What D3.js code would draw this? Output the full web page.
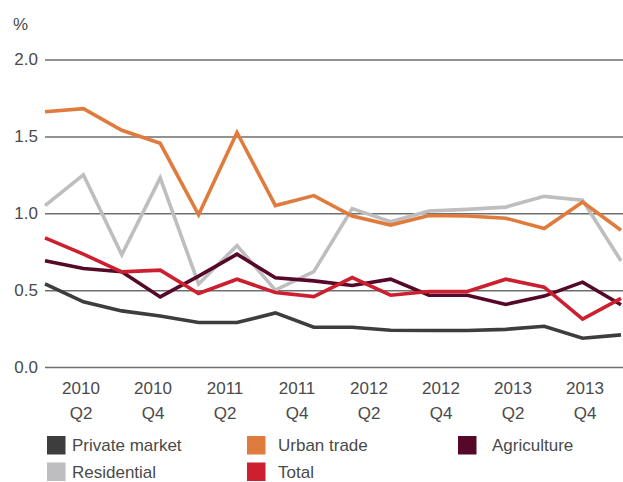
<!DOCTYPE html>
<html>
<head>
<meta charset="utf-8">
<script src="https://cdn.jsdelivr.net/npm/d3@7/dist/d3.min.js"></script>
<style>
  html, body { margin: 0; padding: 0; background: #fff; }
  svg { display: block; }
  text { font-family: "Liberation Sans", Arial, sans-serif; fill: #4a4a4a; }
</style>
</head>
<body>
<svg id="chart" width="623" height="482"></svg>
<script>
// Quarterly share (%), 2010 Q1 – 2013 Q4
const quarters = [
  "2010 Q1","2010 Q2","2010 Q3","2010 Q4",
  "2011 Q1","2011 Q2","2011 Q3","2011 Q4",
  "2012 Q1","2012 Q2","2012 Q3","2012 Q4",
  "2013 Q1","2013 Q2","2013 Q3","2013 Q4"
];
const tickQuarters = ["2010 Q2","2010 Q4","2011 Q2","2011 Q4","2012 Q2","2012 Q4","2013 Q2","2013 Q4"];
const yTicks = [0, 0.5, 1.0, 1.5, 2.0];

const residential   = [1.05, 1.25, 0.73, 1.23, 0.54, 0.79, 0.50, 0.62, 1.03, 0.945, 1.015, 1.025, 1.04, 1.11, 1.085, 0.69];
const urbanTrade    = [1.66, 1.68, 1.54, 1.455, 0.99, 1.525, 1.05, 1.115, 0.982, 0.923, 0.985, 0.982, 0.968, 0.901, 1.073, 0.889];
const privateMarket = [0.54, 0.424, 0.365, 0.332, 0.289, 0.289, 0.352, 0.259, 0.259, 0.239, 0.237, 0.237, 0.245, 0.265, 0.187, 0.209];
const agriculture   = [0.691, 0.641, 0.619, 0.456, 0.591, 0.734, 0.581, 0.560, 0.530, 0.571, 0.467, 0.467, 0.407, 0.461, 0.552, 0.405];
const total         = [0.840, 0.734, 0.619, 0.630, 0.478, 0.571, 0.485, 0.458, 0.582, 0.467, 0.491, 0.491, 0.571, 0.519, 0.311, 0.446];

const series = [
  { name: "Residential",    values: residential,   color: "#bebec0" },
  { name: "Urban trade",    values: urbanTrade,    color: "#e07b3e" },
  { name: "Private market", values: privateMarket, color: "#3d3d3d" },
  { name: "Agriculture",    values: agriculture,   color: "#560828" },
  { name: "Total",          values: total,         color: "#cc2030" }
];

const legendRows = [
  ["Private market", "Urban trade", "Agriculture"],
  ["Residential", "Total"]
];

const svg = d3.select("#chart");
const plot = { left: 45, right: 621, top: 59.5, bottom: 367, gridRight: 623 };

const x = d3.scalePoint().domain(quarters).range([plot.left, plot.right]);
// tick labels sit on a 16-step grid across the plot width
const labelStep = (plot.right - plot.left) / quarters.length;
const xLabel = d3.scaleBand().domain(quarters)
  .range([plot.left - labelStep / 2, plot.right - labelStep / 2]);
const y = d3.scaleLinear().domain([0, 2]).range([plot.bottom, plot.top]);

// y axis with horizontal gridlines
const yAxis = svg.append("g")
  .attr("transform", `translate(${plot.left},0)`)
  .call(d3.axisLeft(y).tickValues(yTicks).tickFormat(d3.format(".1f"))
    .tickSize(-(plot.gridRight - plot.left)).tickPadding(7));
yAxis.select(".domain").remove();
yAxis.selectAll(".tick line").attr("stroke", "#6e6e6e").attr("stroke-width", 1.5);
yAxis.selectAll(".tick text").attr("font-size", 17).attr("fill", "#4a4a4a")
  .style("font-family", "'Liberation Sans', Arial, sans-serif");

svg.append("text").attr("x", 13).attr("y", 30).attr("font-size", 17).text("%");

// x axis: two-line quarter labels
const xAxis = svg.append("g")
  .attr("transform", `translate(0,${plot.bottom})`)
  .call(d3.axisBottom(xLabel).tickValues(tickQuarters).tickSize(0).tickFormat(""));
xAxis.select(".domain").remove();
xAxis.selectAll(".tick").each(function(d) {
  const [yr, q] = d.split(" ");
  const t = d3.select(this).append("text")
    .attr("text-anchor", "middle").attr("font-size", 17).attr("fill", "#4a4a4a")
    .style("font-family", "'Liberation Sans', Arial, sans-serif");
  t.append("tspan").attr("x", 0).attr("y", 27).text(yr);
  t.append("tspan").attr("x", 0).attr("y", 52).text(q);
});

// series lines
const line = d3.line()
  .x((d, i) => x(quarters[i]))
  .y(d => y(d));

svg.append("g").selectAll("path")
  .data(series)
  .join("path")
  .attr("d", d => line(d.values))
  .attr("fill", "none")
  .attr("stroke", d => d.color)
  .attr("stroke-width", 3.6)
  .attr("stroke-linejoin", "miter")
  .attr("stroke-linecap", "butt");

// legend
const colorOf = Object.fromEntries(series.map(s => [s.name, s.color]));
const legendCols = [47, 247, 458];
const legendTextX = [72, 278, 492];
const legend = svg.append("g");
legendRows.forEach((row, r) => {
  row.forEach((name, c) => {
    const g = legend.append("g").attr("transform", `translate(0,${436 + r * 26.5})`);
    g.append("rect").attr("x", legendCols[c]).attr("y", 0)
      .attr("width", 18.5).attr("height", 18.5).attr("fill", colorOf[name]);
    g.append("text").attr("x", legendTextX[c]).attr("y", 15)
      .attr("font-size", 17).text(name);
  });
});
</script>
</body>
</html>
